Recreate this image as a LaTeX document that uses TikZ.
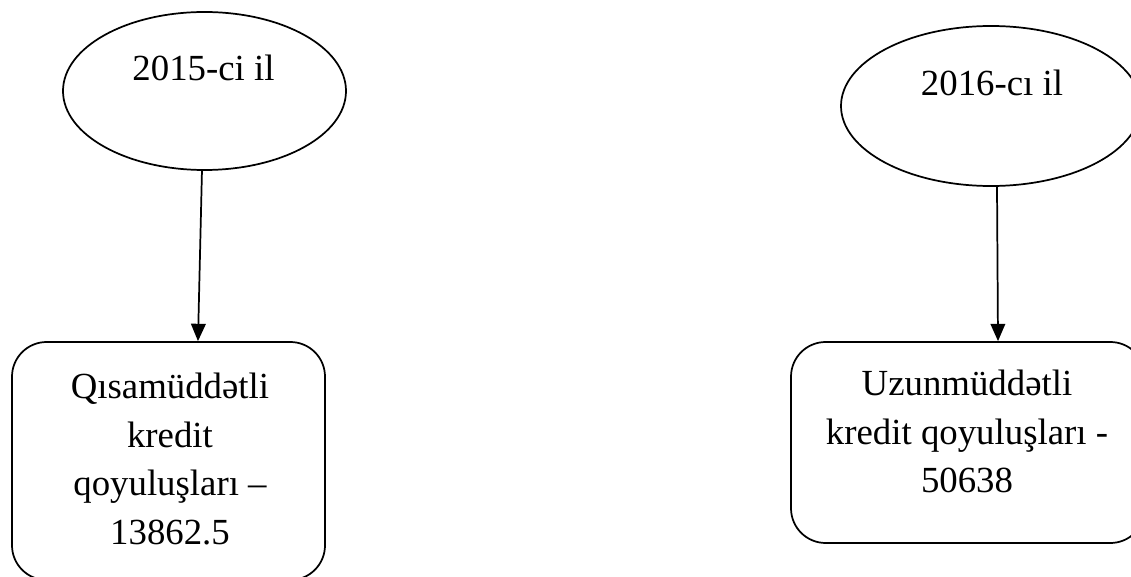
\documentclass[tikz,border=0pt]{standalone}
\usepackage{fontspec}
\setmainfont{Liberation Serif}
\usetikzlibrary{shapes.geometric,arrows.meta}
\begin{document}
\begin{tikzpicture}[x=0.75pt,y=-0.75pt,
  lbl/.style={font=\fontsize{27.6}{36.4}\selectfont, inner sep=0pt},
  yearell/.style={draw, line width=1.3pt, ellipse, inner sep=0pt},
  credbox/.style={draw, line width=1.3pt, rounded corners=26pt, inner sep=0pt},
  arr/.style={line width=1.3pt, -{Triangle[length=13pt,width=11pt]}}]
\useasboundingbox (0,0) rectangle (1131,577);
\clip (0,0) rectangle (1131,577);
% year ellipses
\node[yearell, minimum width=212.25pt, minimum height=118.5pt] (e1) at (204.5,91) {};
\node[lbl, anchor=base] (t1) at (203.5,81) {2015-ci il};
\node[yearell, minimum width=225pt, minimum height=120pt] (e2) at (991,106) {};
\node[lbl, anchor=base] (t2) at (992,96) {2016-cı il};
% credit boxes
\node[credbox, minimum width=234.75pt, minimum height=178.5pt] (b1) at (168.5,461) {};
\node[lbl, anchor=north, align=center] (c1) at (170,373)
  {Qısamüddətli\\kredit\\qoyuluşları –\\13862.5};
\node[credbox, minimum width=265.5pt, minimum height=150.75pt] (b2) at (968,442.5) {};
\node[lbl, anchor=north, align=center] (c2) at (967,370)
  {Uzunmüddətli\\kredit qoyuluşları -\\50638};
% connectors
\draw[arr] ([xshift=-1.9pt]e1.south) -- ([xshift=22.1pt]b1.north);
\draw[arr] ([xshift=4.5pt]e2.south) -- ([xshift=22.5pt]b2.north);
\end{tikzpicture}
\end{document}
